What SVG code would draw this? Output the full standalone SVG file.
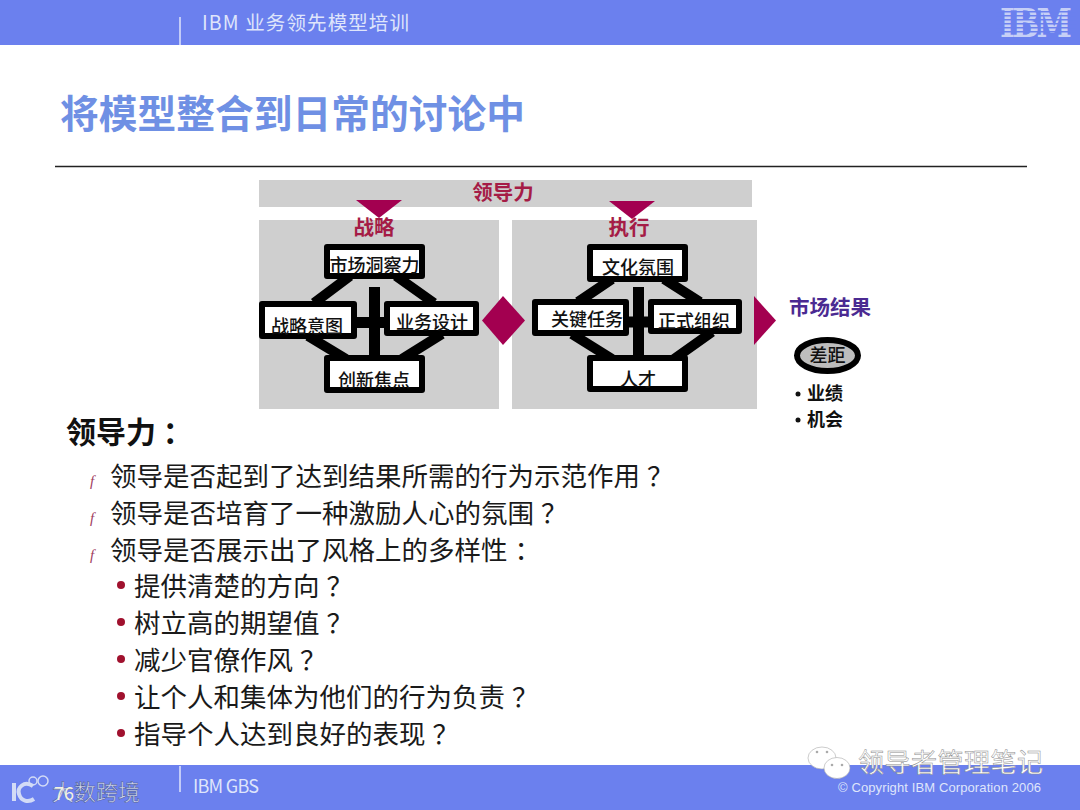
<svg xmlns="http://www.w3.org/2000/svg" width="1080" height="810" viewBox="0 0 1080 810">
<style>
text{font-family:"Noto Sans CJK SC","Liberation Sans",sans-serif}
.bar{fill:#6b80ee}
.panel{fill:#cfcfcf}
.mag{fill:#a30050}
.box{fill:#fff;stroke:#000;stroke-width:6;stroke-linejoin:round}
.lbl{font-size:18px;font-weight:500;fill:#111;text-anchor:middle}
.red{font-size:20.500px;font-weight:700;fill:#a51c46;text-anchor:middle}
.q{font-size:26.500px;fill:#1a1a1a}
.dot{fill:#a0112e}
.f{font-family:"Liberation Serif",serif;font-style:italic;font-size:15px;fill:#a04060}
.lnk{stroke:#000;stroke-width:10;fill:none}
.hd{fill:#dfe5fb}
.sm{font-size:18px;font-weight:700;fill:#111}
</style>

<rect x="0" y="0" width="1080" height="45" class="bar"/>
<rect x="0" y="765" width="1080" height="45" class="bar"/>
<line x1="180" y1="17" x2="180" y2="45" stroke="#dfe5fb" stroke-width="1.500"/>
<line x1="180" y1="766" x2="180" y2="792" stroke="#dfe5fb" stroke-width="1.500"/>
<text x="202" y="30" class="hd" font-size="19.500" textLength="207">IBM 业务领先模型培训</text>
<g id="ibm-logo">
<text transform="translate(1000,37) scale(1,1.200)" font-size="32" font-weight="700" fill="#c6cff6" textLength="72" style="font-family:'DejaVu Serif',serif">IBM</text>
<g fill="#6b80ee"><rect x="996" y="11" width="80" height="1.500"/><rect x="996" y="15" width="80" height="1.500"/><rect x="996" y="19" width="80" height="1.500"/><rect x="996" y="23" width="80" height="1.500"/><rect x="996" y="27" width="80" height="1.500"/><rect x="996" y="31" width="80" height="1.500"/></g>
</g>
<text x="60" y="128" font-size="38.700" font-weight="700" fill="#6f90e4" textLength="465">将模型整合到日常的讨论中</text>
<line x1="55" y1="166.500" x2="1027" y2="166.500" stroke="#222" stroke-width="1.300"/>

<rect x="259" y="180" width="493" height="27" class="panel"/>
<rect x="259" y="220" width="240" height="189" class="panel"/>
<rect x="512" y="220" width="245" height="189" class="panel"/>
<text x="503" y="200" class="red">领导力</text>
<polygon points="356,200 402,200 379,218" class="mag"/>
<polygon points="609,201 655,201 632,219" class="mag"/>
<text x="374" y="235" class="red">战略</text>
<text x="629" y="235" class="red">执行</text>

<g id="connectors">
<path class="lnk" d="M350,276 L314,303 M396,276 L434,303 M308,336 L346,359 M442,334 L402,359"/>
<path class="lnk" d="M374.500,287 V355 M356,322.500 H384" style="stroke-width:11"/>
<path class="lnk" d="M612,279 L578,302 M664,279 L700,302 M572,334 L612,359 M712,332 L674,359"/>
<path class="lnk" d="M638.500,287 V355 M629,322 H648" style="stroke-width:11"/>
</g>

<g id="n-insight"><rect x="327" y="247" width="95" height="29" class="box"/><text x="374.500" y="272" class="lbl">市场洞察力</text></g>
<g id="n-intent"><rect x="262" y="304" width="92" height="32" class="box"/><text x="307" y="333" class="lbl">战略意图</text></g>
<g id="n-design"><rect x="387" y="304" width="89" height="29" class="box"/><text x="432" y="329" class="lbl">业务设计</text></g>
<g id="n-focus"><rect x="327" y="358" width="95" height="32" class="box"/><text x="374" y="387" class="lbl">创新焦点</text></g>
<g id="n-culture"><rect x="590" y="247" width="95" height="32" class="box"/><text x="638" y="274" class="lbl">文化氛围</text></g>
<g id="n-task"><rect x="535" y="302" width="91" height="31" class="box"/><text x="587" y="326" class="lbl">关键任务</text></g>
<g id="n-org"><rect x="651" y="302" width="88" height="29" class="box"/><text x="694" y="328" class="lbl">正式组织</text></g>
<g id="n-talent"><rect x="590" y="358" width="95" height="31" class="box"/><text x="638" y="386" class="lbl">人才</text></g>

<polygon points="503,296 525,320.500 503,345 482,320.500" class="mag"/>
<polygon points="754,296 776,320.500 754,345" class="mag"/>

<text x="789" y="315" font-size="20.500" font-weight="700" fill="#4b2a92">市场结果</text>
<g id="n-gap"><ellipse cx="827.500" cy="355.500" rx="30.500" ry="15.500" fill="#bdbdbd" stroke="#000" stroke-width="6"/><text x="827.500" y="362" class="lbl">差距</text></g>
<circle cx="798" cy="394" r="2.500" fill="#111"/><text x="807" y="400" class="sm">业绩</text>
<circle cx="798" cy="420" r="2.500" fill="#111"/><text x="807" y="426" class="sm">机会</text>

<text x="66" y="443" font-size="30" font-weight="700" fill="#111">领导力 ：</text>

<text x="90" y="486" class="f">f</text>
<text x="110" y="486" class="q">领导是否起到了达到结果所需的行为示范作用<tspan dx="7">？</tspan></text>
<text x="90" y="523" class="f">f</text>
<text x="110" y="523" class="q">领导是否培育了一种激励人心的氛围<tspan dx="7">？</tspan></text>
<text x="90" y="560" class="f">f</text>
<text x="110" y="560" class="q">领导是否展示出了风格上的多样性<tspan dx="7">：</tspan></text>

<circle cx="121" cy="585" r="4" class="dot"/><text x="134" y="596" class="q">提供清楚的方向<tspan dx="7">？</tspan></text>
<circle cx="121" cy="622" r="4" class="dot"/><text x="134" y="633" class="q">树立高的期望值<tspan dx="7">？</tspan></text>
<circle cx="121" cy="659" r="4" class="dot"/><text x="134" y="670" class="q">减少官僚作风<tspan dx="7">？</tspan></text>
<circle cx="121" cy="696" r="4" class="dot"/><text x="134" y="707" class="q">让个人和集体为他们的行为负责<tspan dx="7">？</tspan></text>
<circle cx="121" cy="733" r="4" class="dot"/><text x="134" y="744" class="q">指导个人达到良好的表现<tspan dx="7">？</tspan></text>

<text x="193" y="793" class="hd" font-size="18" textLength="66">IBM GBS</text>
<text x="838" y="792" class="hd" font-size="13" style="font-family:'Liberation Sans',sans-serif" textLength="203">© Copyright IBM Corporation 2006</text>

<g id="watermark-left" fill="none" stroke="#d3dbf6" stroke-width="4">
<path d="M14,783 V801 M33,786 C24,780 17,788 19,794 C21,801 28,803 34,799"/>
<circle cx="33" cy="781" r="4" stroke-width="1.500"/><circle cx="43" cy="781" r="5" stroke-width="1.500"/>
</g>
<text x="52" y="800" font-size="22" fill="#cfd6f2" stroke="#4a5890" stroke-width=".5" textLength="88">大数跨境</text>
<text x="54" y="800" font-size="18" fill="#f2f2e0">76</text>

<g id="watermark-right">
<ellipse cx="822" cy="758" rx="14" ry="11" fill="#fff" stroke="#aaa" stroke-width=".6"/>
<ellipse cx="837" cy="768" rx="13" ry="10.500" fill="#fff" stroke="#aaa" stroke-width=".6"/>
<circle cx="817" cy="752" r="1.300" fill="#aaa"/><circle cx="827" cy="752" r="1.300" fill="#aaa"/>
<circle cx="832" cy="765" r="1.300" fill="#aaa"/><circle cx="842" cy="765" r="1.300" fill="#aaa"/>
<text x="858" y="772" font-size="26" fill="#fff" stroke="#8c8c8c" stroke-width=".5" textLength="185">领导者管理笔记</text>
</g>
</svg>
